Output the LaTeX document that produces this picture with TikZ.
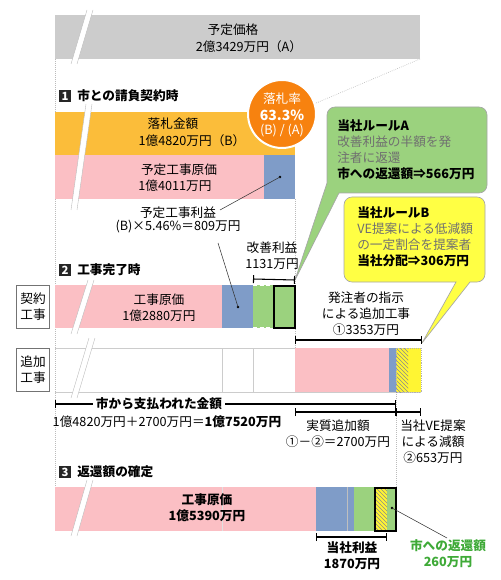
\documentclass[tikz,border=0pt]{standalone}
\usepackage{fontspec}
\setmainfont{Noto Sans CJK JP}
\usetikzlibrary{patterns,arrows.meta}
\definecolor{bandgray}{HTML}{CCCCCC}
\definecolor{barorange}{HTML}{FBBD3A}
\definecolor{barpink}{HTML}{FBBFC4}
\definecolor{barblue}{HTML}{7F9CC8}
\definecolor{bargreen}{HTML}{9BD27E}
\definecolor{baryellow}{HTML}{FFF533}
\definecolor{circorange}{HTML}{F7820F}
\definecolor{txtgreen}{HTML}{3FAA38}
\definecolor{callB}{HTML}{FFFF44}
\definecolor{guide}{HTML}{BBBBBB}
\definecolor{divgray}{HTML}{CCCCCC}
\definecolor{calltxt}{HTML}{707070}
\tikzset{
  txt/.style={font=\fontsize{9.5}{12}\selectfont, inner sep=0pt, align=center},
  txtb/.style={font=\fontsize{9.5}{12}\selectfont\bfseries, inner sep=0pt, align=center},
  hdr/.style={font=\fontsize{9.5}{11}\selectfont\bfseries, anchor=west, inner sep=0pt},
  numbox/.style={fill=black!85, text=white, font=\fontsize{8.5}{9}\selectfont\bfseries, minimum size=9.5pt, inner sep=0pt},
  guideline/.style={guide, densely dotted, line width=0.5pt},
  brkedge/.style={guide, line width=0.3pt},
  bracket/.style={line width=0.8pt, {Bar[width=6pt]}-{Bar[width=6pt]}},
  labbox/.style={draw=black!55, line width=0.5pt, fill=white, minimum width=25pt, minimum height=32pt, inner sep=0pt, font=\fontsize{9.5}{12}\selectfont, align=center},
  calltext/.style={font=\fontsize{9.5}{12}\selectfont, inner sep=0pt, align=left, anchor=north west},
  leader/.style={line width=0.4pt, black!80},
  hatch/.style={pattern=north west lines, pattern color=black!45},
}
\newcommand{\myslash}[4]{%
  \fill[white] (#1,#2) -- (#1+6,#2) -- (#3+6,#4) -- (#3,#4) -- cycle;
  \draw[brkedge] (#1,#2) -- (#3,#4);
  \draw[brkedge] (#1+6,#2) -- (#3+6,#4);}
\begin{document}
\begin{tikzpicture}[x=0.75pt,y=-0.75pt]
\useasboundingbox (0,0) rectangle (500,580);

% guides
\draw[guideline] (55,59) -- (55,492);
\draw[guideline] (420,59) -- (295,112);
\draw[guideline] (295,199) -- (295,348);
\draw[guideline] (396,392) -- (396,487);

% top band
\fill[bandgray] (55,15) rectangle (420,59);
\myslash{87}{10}{71}{64}
\node[txt] (pricelbl) at (233,30) {予定価格};
\node[txt] (priceval) at (249,47) {2億3429万円（A）};

% section 1
\node[numbox] (n1) at (65,96) {1};
\node[hdr] (h1) at (77,96) {市との請負契約時};
\fill[barorange] (55,112) rectangle (295,155);
\fill[barpink] (55,155) rectangle (264,199);
\fill[barblue] (264,155) rectangle (295,199);
\myslash{86}{104}{71}{210}
\node[txt] (bidlbl) at (173,124) {落札金額};
\node[txt] (bidval) at (192,141) {1億4820万円（B）};
\node[txt] (pcostlbl) at (179,170) {予定工事原価};
\node[txt] (pcostval) at (175,186) {1億4011万円};
\node[txt, font=\fontsize{9.5}{10}\selectfont] (pprofit) at (178,220) {予定工事利益\\(B)×5.46\%＝809万円};
\coordinate (dot1) at (280,177);
\coordinate (lead1) at (220,210);
\coordinate (lead2) at (218,243);
\coordinate (dot2) at (238,307);
\fill (dot1) circle (1.3);
\draw[leader] (dot1) -- (lead1);

% rate circle
\node[circle, fill=circorange, draw=white, line width=1.5pt, minimum size=51pt, inner sep=0pt] (rate) at (282,114) {};
\node[txt, text=white] (rate1) at (282,99) {落札率};
\node[txtb, text=white, font=\fontsize{10.5}{12}\selectfont\bfseries] (rate2) at (282,115) {63.3\%};
\node[txt, text=white] (rate3) at (282,131) {(B) / (A)};

% callout A
\coordinate (tipA) at (295,280);
\draw[fill=bargreen, draw=black!35, line width=0.5pt] (339,193) -- (tipA) -- (327,183) [rounded corners=6pt] -- (327,107) -- (487,107) -- (487,193) [sharp corners] -- cycle;
\node[calltext] (ruleA) at (337,119) {\bfseries 当社ルールA\\\color{calltxt}改善利益の半額を発\\\color{calltxt}注者に返還\\\bfseries 市への返還額⇒566万円};

% callout B
\coordinate (tipB) at (422,343);
\draw[fill=callB, draw=black!35, line width=0.5pt] (470,282) -- (tipB) -- (456,282) [rounded corners=6pt] -- (344,282) -- (344,197) -- (485,197) -- (485,282) [sharp corners] -- cycle;
\node[calltext] (ruleB) at (357,206) {\bfseries 当社ルールB\\\color{calltxt}VE提案による低減額\\\color{calltxt}の一定割合を提案者\\\bfseries 当社分配⇒306万円};

% section 2
\node[numbox] (n2) at (65,270) {2};
\node[hdr] (h2) at (77,270) {工事完了時};
\node[txt] (kaizen) at (272,256) {改善利益\\1131万円};
\coordinate (kzL) at (253,279);
\draw[bracket] (kzL) -- (tipA);

\node[labbox] (lab1) at (33,306.5) {契約\\工事};
\node[labbox] (lab2) at (33,370) {追加\\工事};

\fill[barpink] (55,285) rectangle (222,328);
\fill[barblue] (222,285) rectangle (253,328);
\fill[bargreen] (253,285) rectangle (274,328);
\draw[white, densely dashed, line width=0.4pt] (253,285.5) -- (274,285.5) (253,327.5) -- (274,327.5);
\draw[fill=bargreen, line width=1.5pt] (274,286) rectangle (295,327.5);
\myslash{88}{280}{71}{334}
\node[txt] (costlbl2) at (159,307.5) {工事原価\\1億2880万円};
\fill (dot2) circle (1.3);
\draw[leader] (lead2) -- (dot2);

\node[txt] (addwork) at (366,314) {発注者の指示\\による追加工事\\①3353万円};
\coordinate (addL) at (295,340);
\coordinate (addR) at (422,340);
\draw[bracket] (addL) -- (addR);

% additional row
\draw[divgray, line width=0.5pt] (55,348) -- (295,348) (55,392) -- (421,392) (222,348) -- (222,392) (253,348) -- (253,392);
\fill[barpink] (295,348) rectangle (389,392);
\fill[barblue] (389,348) rectangle (396,392);
\fill[baryellow] (396,348) rectangle (421,392);
\fill[hatch] (396,348) rectangle (408,392);
\draw[black!30, densely dotted, line width=0.4pt] (396,348) rectangle (421,392);
\myslash{89}{338}{71}{398}

% payments
\coordinate (payL) at (55,404);
\coordinate (payR) at (396,404);
\draw[bracket] (payL) -- (payR);
\node[txtb, fill=white, inner xsep=2pt] (paid) at (159,404) {市から支払われた金額};
\node[txt] (paidval) at (167,422) {1億4820万円＋2700万円＝{\bfseries 1億7520万円}};
\coordinate (realL) at (295,412);
\coordinate (realR) at (396,412);
\coordinate (veR) at (421,412);
\draw[bracket] (realL) -- (realR);
\draw[bracket] (realR) -- (veR);
\node[txt] (real) at (338,433.5) {実質追加額\\①－②＝2700万円};
\node[txt] (ve) at (433,441.5) {当社VE提案\\による減額\\②653万円};

% section 3
\node[numbox] (n3) at (65,472) {3};
\node[hdr] (h3) at (77,472) {返還額の確定};
\fill[barpink] (55,487) rectangle (316,531);
\draw[black!12, line width=0.4pt] (222,487) -- (222,531);
\fill[barblue] (316,487) rectangle (354,531);
\draw[black!25, line width=0.4pt] (347,487) -- (347,531);
\fill[bargreen] (354,487) rectangle (396,531);
\fill[baryellow] (374,487) rectangle (387,531);
\fill[hatch] (374,487) rectangle (387,531);
\draw[line width=1.5pt] (374.5,487.5) rectangle (396,530.5);
\myslash{87}{480}{71}{536}
\node[txtb] (cost3) at (207,507.5) {工事原価\\1億5390万円};
\coordinate (profL) at (316,537);
\coordinate (profR) at (387,537);
\draw[bracket] (profL) -- (profR);
\node[txtb] (prof3) at (352,556) {当社利益\\1870万円};
\coordinate (dot3) at (392,508);
\coordinate (lead3) at (447,538);
\fill (dot3) circle (1.3);
\draw[leader] (dot3) -- (lead3);
\node[txtb, text=txtgreen] (ret3) at (448,554) {市への返還額\\260万円};
\end{tikzpicture}
\end{document}
